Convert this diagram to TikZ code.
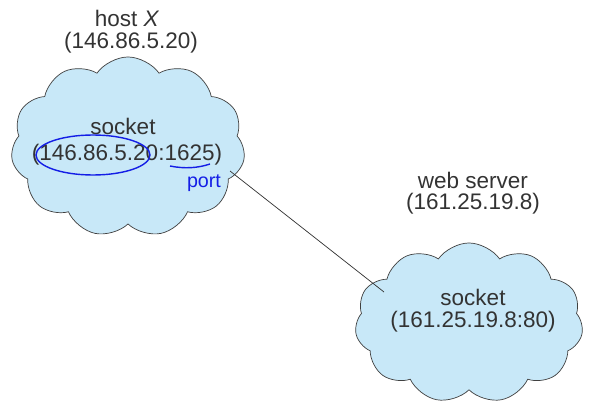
\documentclass[tikz,border=0pt]{standalone}
\usepackage{fontspec}
\setmainfont{Liberation Sans}
\usetikzlibrary{shapes.symbols}
\definecolor{cloudblue}{RGB}{200,232,248}
\definecolor{inkblue}{RGB}{20,30,230}
\begin{document}
\begin{tikzpicture}[x=0.025cm,y=-0.025cm,
  puff/.style={cloud, cloud puffs=11, cloud puff arc=110, draw=black!75, fill=cloudblue, line width=0.5pt, inner sep=0pt},
  lbl/.style={text=black!80, font=\fontsize{16}{19}\selectfont, inner sep=0pt}]
\useasboundingbox (0,0) rectangle (607,401);

% the two hosts
\node[puff, minimum width=5.85cm, minimum height=4.5cm] (hostcloud) at (128,147) {};
\node[puff, minimum width=5.7cm, minimum height=4.0cm] (servercloud) at (469,323) {};

% labels above the clouds
\node[lbl] (hostname) at (127,18) {host \textit{X}};
\node[lbl] (hostaddr) at (131,43) {(146.86.5.20)};
\node[lbl] (servername) at (473,180) {web server};
\node[lbl] (serveraddr) at (473,204) {(161.25.19.8)};

% sockets
\node[lbl] (hostsock) at (123,126) {socket};
\node[lbl] (hostsockaddr) at (127,155) {(146.86.5.20:1625)};
\node[lbl] (serversock) at (473,297) {socket};
\node[lbl] (serversockaddr) at (473,322) {(161.25.19.8:80)};

% connection
\coordinate (hostend) at (230,171);
\coordinate (serverend) at (384,292);
\draw[black!80, line width=0.5pt] (hostend) -- (serverend);

% hand-written notes
\draw[inkblue, line width=1pt] (93,155) ellipse [x radius=57, y radius=20];
\draw[inkblue, line width=1pt] (170,166) .. controls (185,169) and (198,168) .. (210,164);
\node[text=inkblue, font=\fontsize{14}{16}\selectfont, inner sep=0pt] (portnote) at (204,183) {port};
\end{tikzpicture}
\end{document}
